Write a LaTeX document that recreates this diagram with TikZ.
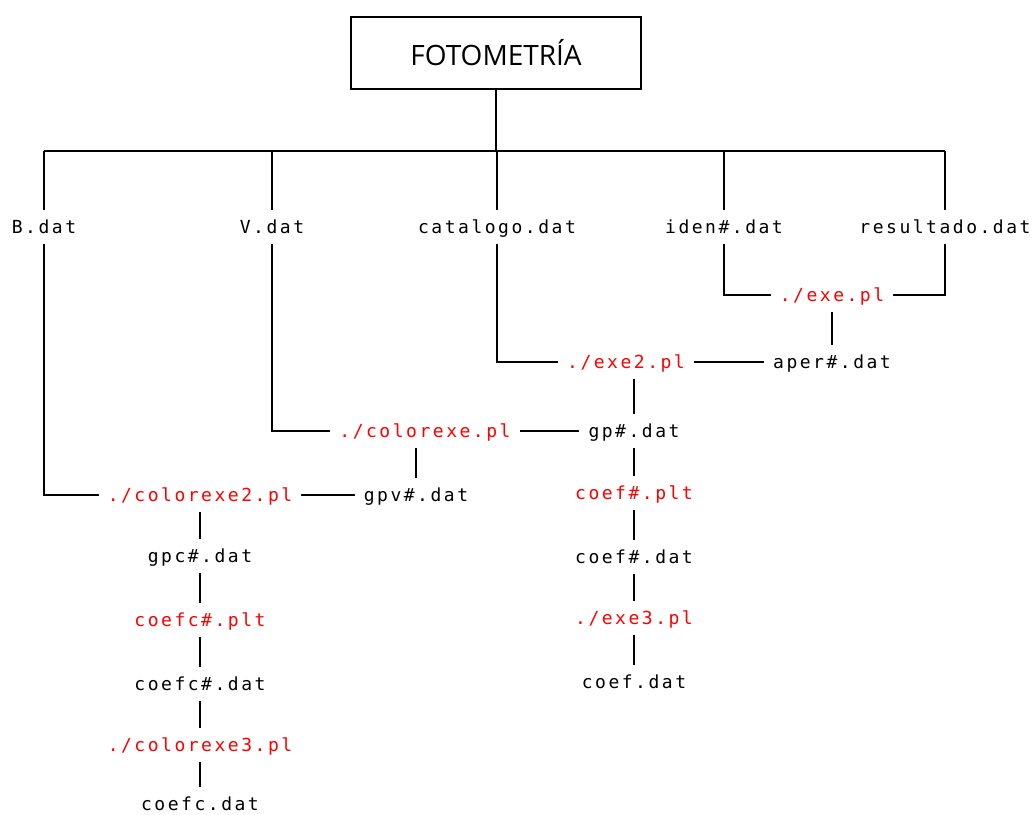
\documentclass[tikz,border=0pt]{standalone}
\usepackage{fontspec}
\newfontfamily\filefont[LetterSpace=14]{DejaVu Sans Mono}
\newfontfamily\titlefont{Open Sans}
\tikzset{
  x=1pt, y=-1pt,
  file/.style={font=\filefont\fontsize{18}{20}\selectfont, text height=13pt,
    text depth=0pt, inner xsep=9pt, inner ysep=10.5pt},
  script/.style={file, text=red},
  link/.style={line width=2.7pt},
  titlebox/.style={draw, line width=2.7pt, minimum width=290pt, minimum height=72pt,
    font=\titlefont\fontsize{28}{32}\selectfont}
}
\begin{document}
\begin{tikzpicture}
\useasboundingbox (0,0) rectangle (1032,814);
% root
\node[titlebox] (title) at (496,53) {FOTOMETRÍA};
\coordinate (bus) at (496,151);
% first level files
\node[file] (B)    at (44,227)  {B.dat};
\node[file] (V)    at (272,227) {V.dat};
\node[file] (cat)  at (497,227) {catalogo.dat};
\node[file] (iden) at (724,227) {iden\#.dat};
\node[file] (res)  at (945,227) {resultado.dat};
% aperture branch
\node[script] (exe)  at (832,295) {./exe.pl};
\node[file]   (aper) at (832,362) {aper\#.dat};
\node[script] (exe2) at (626,362) {./exe2.pl};
\node[file]   (gp)   at (634,431) {gp\#.dat};
\node[script] (coefplt) at (634,493) {coef\#.plt};
\node[file]   (coefdat) at (634,557) {coef\#.dat};
\node[script] (exe3) at (634,618) {./exe3.pl};
\node[file]   (coef) at (634,682) {coef.dat};
% colour branch
\node[script] (ce)   at (425,431) {./colorexe.pl};
\node[file]   (gpv)  at (416,495) {gpv\#.dat};
\node[script] (ce2)  at (200,495) {./colorexe2.pl};
\node[file]   (gpc)  at (200,556) {gpc\#.dat};
\node[script] (coefcplt) at (200,620) {coefc\#.plt};
\node[file]   (coefcdat) at (200,684) {coefc\#.dat};
\node[script] (ce3)  at (200,745) {./colorexe3.pl};
\node[file]   (coefc) at (200,804) {coefc.dat};
% top tree
\draw[link] (title) -- (bus);
\draw[link] (B|-bus) -- (res|-bus);
\foreach \n in {B,V,cat,iden,res} \draw[link] (\n|-bus) -- (\n);
% connections
\draw[link] (iden) |- (exe);
\draw[link] (res) |- (exe);
\draw[link] (exe) -- (aper);
\draw[link] (cat) |- (exe2);
\draw[link] (exe2) -- (aper);
\draw[link] (gp|-exe2.south) -- (gp);
\draw[link] (V) |- (ce);
\draw[link] (ce) -- (gp);
\draw[link] (gpv|-ce.south) -- (gpv);
\draw[link] (B) |- (ce2);
\draw[link] (ce2) -- (gpv);
\draw[link] (ce2) -- (gpc) (gpc) -- (coefcplt) (coefcplt) -- (coefcdat)
  (coefcdat) -- (ce3) (ce3) -- (coefc);
\draw[link] (gp) -- (coefplt) (coefplt) -- (coefdat) (coefdat) -- (exe3)
  (exe3) -- (coef);
\end{tikzpicture}
\end{document}
